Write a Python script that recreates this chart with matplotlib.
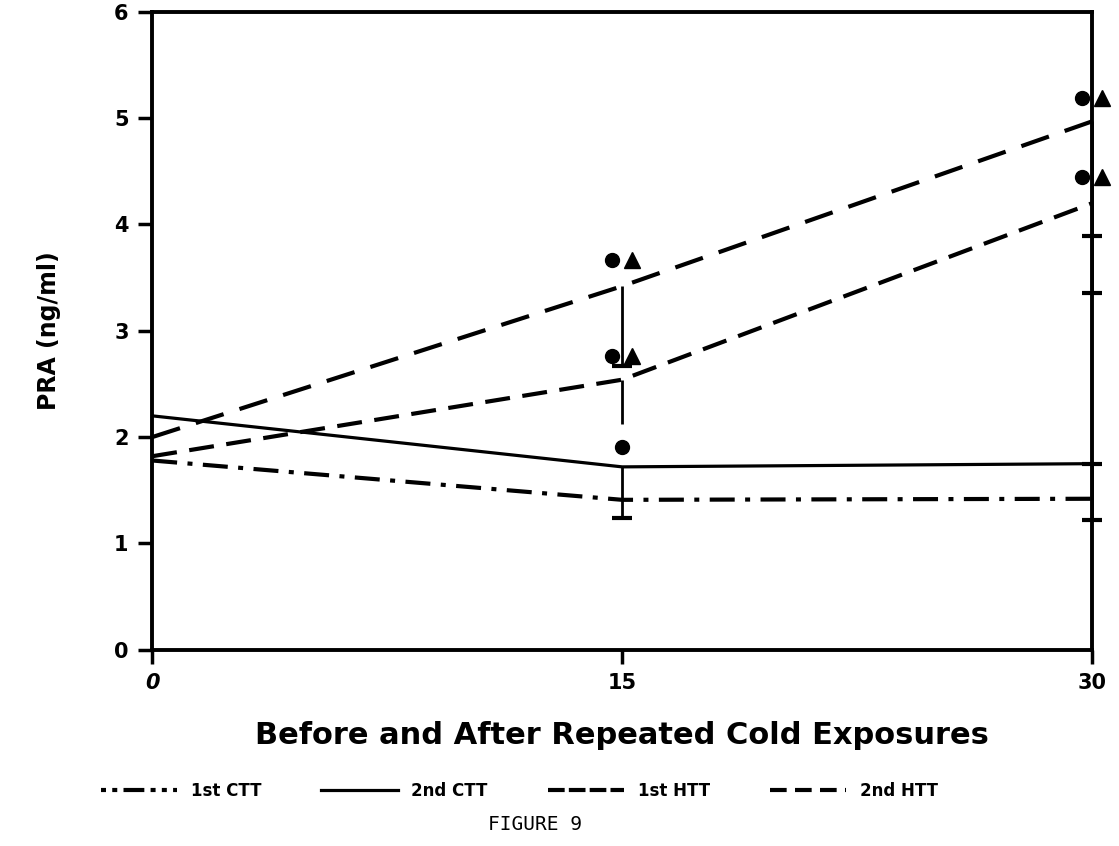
import matplotlib
matplotlib.use('Agg')
from matplotlib import pyplot as plt
from matplotlib.lines import Line2D
import matplotlib.transforms as mtransforms

# data
days = [0, 15, 30]
ctt1 = [1.78, 1.41, 1.42]
ctt2 = [2.20, 1.72, 1.75]
htt1 = [1.82, 2.54, 4.20]
htt2 = [2.00, 3.42, 4.97]

# lower error bars (only the lower half is drawn in the original)
err_x = [15, 15, 15, 30, 30, 30]
err_top = [3.42, 2.54, 1.72, 4.97, 4.20, 1.75]
err_bottom = [2.67, 2.12, 1.24, 3.89, 3.36, 1.22]
err_cap = [True, False, True, True, True, True]

# significance markers
sig_x = [15, 15, 30, 30]
sig_y = [3.67, 2.76, 5.19, 4.45]
circle_only_x = [15]
circle_only_y = [1.91]

xticks = [0, 15, 30]
xticklabels = ['0', '15', '30']
yticks = [0, 1, 2, 3, 4, 5, 6]

plt.rcParams['font.family'] = ['DejaVu Sans']

fig = plt.figure(figsize=(11.19, 8.46), dpi=100)
ax = fig.add_axes([0.136, 0.232, 0.840, 0.754])

lw = 3.0
ax.plot(days, ctt1, color='k', lw=lw, dashes=(6, 2.5, 1.2, 2.5))
ax.plot(days, ctt2, color='k', lw=2.3, linestyle='-')
ax.plot(days, htt1, color='k', lw=lw, dashes=(6, 3))
ax.plot(days, htt2, color='k', lw=lw, dashes=(7, 4))

# error bars: vertical stem plus a cap at the lower end
ax.vlines(err_x, err_bottom, err_top, color='k', lw=2.0, clip_on=False)
cap_x = [x for x, c in zip(err_x, err_cap) if c]
cap_y = [y for y, c in zip(err_bottom, err_cap) if c]
ax.plot(cap_x, cap_y, '_', color='k', ms=14, mew=3, clip_on=False)
ax.plot([30], [ctt2[2]], '_', color='k', ms=14, mew=3, clip_on=False)

# markers: circle slightly left, triangle slightly right
left = mtransforms.offset_copy(ax.transData, fig=fig, x=-7, y=0, units='points')
right = mtransforms.offset_copy(ax.transData, fig=fig, x=7, y=0, units='points')
ax.plot(sig_x, sig_y, 'o', color='k', ms=10, transform=left, clip_on=False)
ax.plot(sig_x, sig_y, '^', color='k', ms=11, transform=right, clip_on=False)
ax.plot(circle_only_x, circle_only_y, 'o', color='k', ms=10, clip_on=False)

ax.set_xlim(0, 30)
ax.set_ylim(0, 6)
ax.set_xticks(xticks)
ax.set_xticklabels(xticklabels, fontsize=15, fontweight='bold')
ax.get_xticklabels()[0].set_style('italic')
ax.set_yticks(yticks)
ax.set_yticklabels([str(v) for v in yticks], fontsize=15, fontweight='bold')
ax.tick_params(axis='both', direction='out', length=10, width=2.5, pad=7)
for s in ax.spines.values():
    s.set_linewidth(2.8)

ax.set_ylabel('PRA (ng/ml)', fontsize=17, fontweight='bold', labelpad=38)
ax.set_xlabel('Before and After Repeated Cold Exposures', fontsize=22,
              fontweight='bold', labelpad=20)

handles = [
    Line2D([], [], color='k', lw=lw, dashes=(1.2, 1.5, 1.2, 1.5, 5, 1.5)),
    Line2D([], [], color='k', lw=2.3),
    Line2D([], [], color='k', lw=lw, dashes=(4, 1)),
    Line2D([], [], color='k', lw=lw, dashes=(4, 2)),
]
labels = ['1st CTT', '2nd CTT', '1st HTT', '2nd HTT']
fig.legend(handles, labels, loc='center', bbox_to_anchor=(0.464, 0.065), ncol=4,
           frameon=False, handlelength=4.6, columnspacing=3.6, handletextpad=0.8,
           prop={'weight': 'bold', 'size': 12})

fig.text(0.478, 0.025, 'FIGURE 9', fontsize=14, family='DejaVu Sans Mono',
         ha='center', va='center')

fig.savefig('out.png', dpi=100)
